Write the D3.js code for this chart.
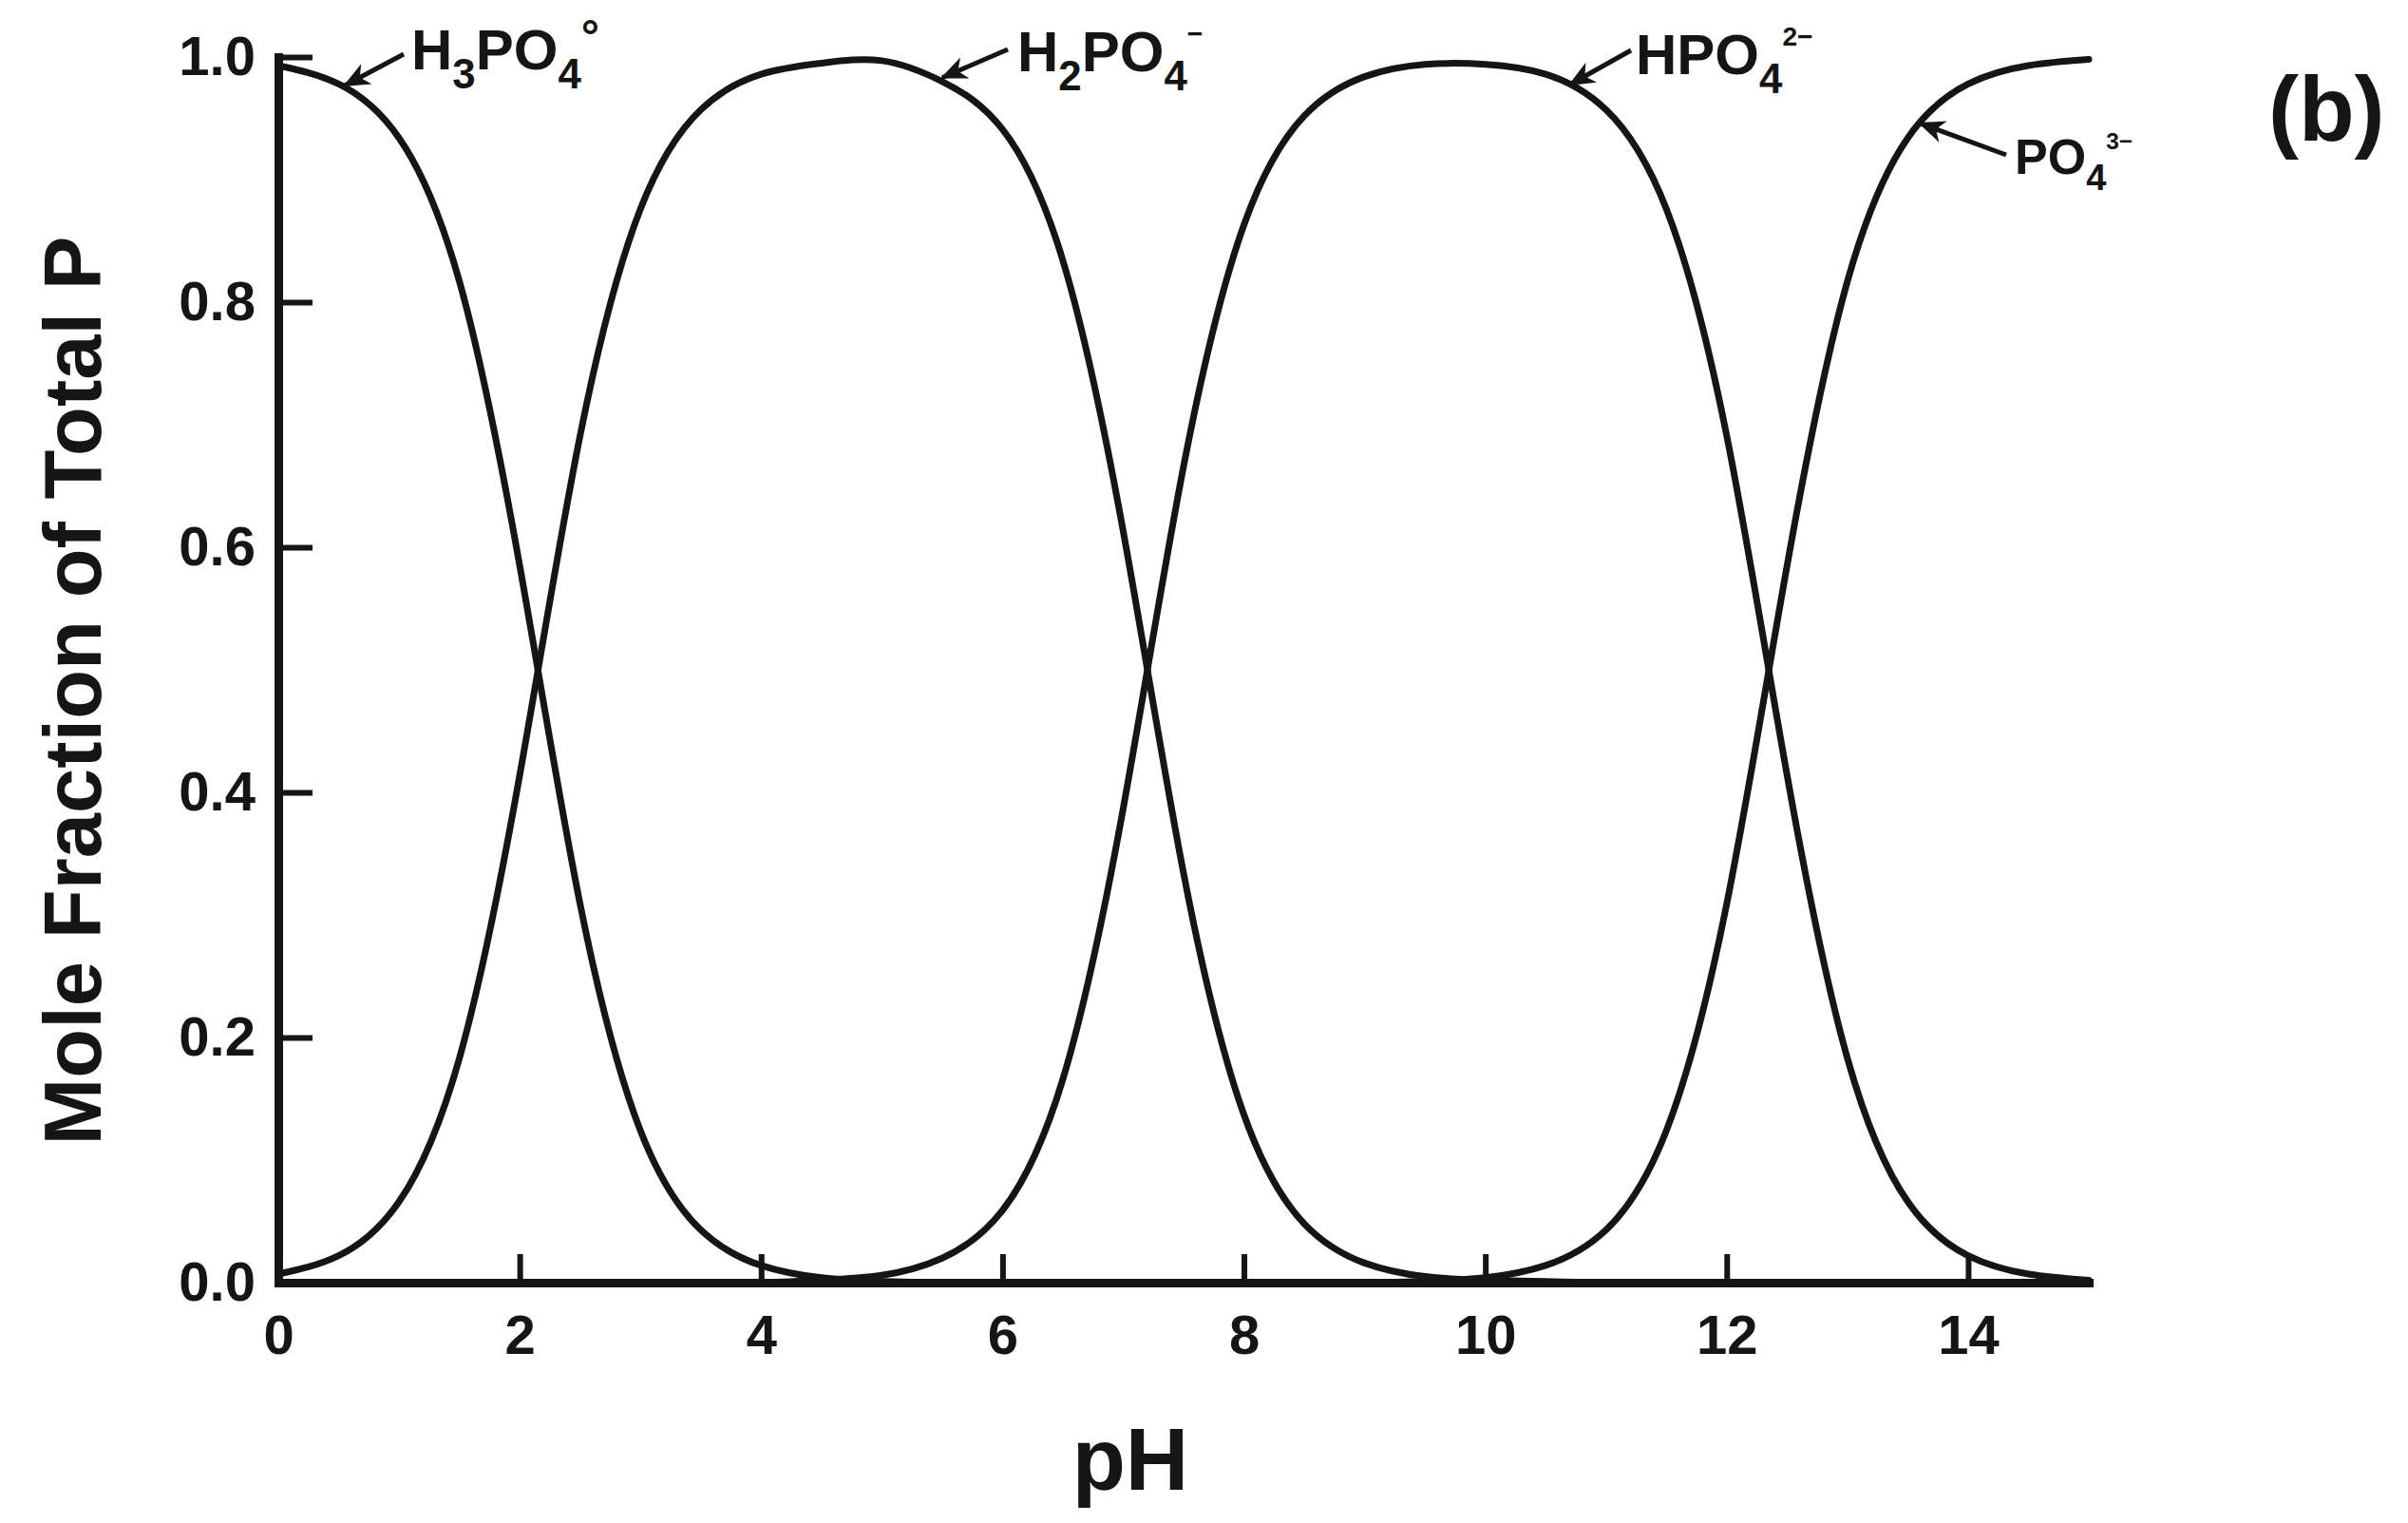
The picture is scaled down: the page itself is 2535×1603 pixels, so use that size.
<!DOCTYPE html>
<html>
<head>
<meta charset="utf-8">
<script src="https://cdn.jsdelivr.net/npm/d3@7"></script>
<style>
  html, body { margin: 0; padding: 0; background: #ffffff; }
  svg { display: block; }
  text { font-family: "Liberation Sans", Arial, Helvetica, sans-serif; font-weight: bold; fill: #151515; }
</style>
</head>
<body>
<svg id="chart" width="2535" height="1603"></svg>
<script>
// ---- data ----
const pH = [0, 0.5, 1, 1.5, 2, 2.5, 3, 3.5, 4, 4.5, 5, 5.5, 6, 6.5, 7, 7.5,
            8, 8.5, 9, 9.5, 10, 10.5, 11, 11.5, 12, 12.5, 13, 13.5, 14, 14.5, 15];
const fracH3PO4 = [0.993, 0.978, 0.934, 0.817, 0.585, 0.309, 0.124, 0.043, 0.014, 0.004, 0.001,
                   0, 0, 0, 0, 0, 0, 0, 0, 0, 0, 0, 0, 0, 0, 0, 0, 0, 0, 0, 0];
const fracH2PO4 = [0.007, 0.022, 0.066, 0.183, 0.414, 0.691, 0.876, 0.957, 0.986, 0.995, 0.997,
                   0.980, 0.941, 0.834, 0.613, 0.334, 0.137, 0.048, 0.016, 0.005, 0.002, 0.001,
                   0, 0, 0, 0, 0, 0, 0, 0, 0];
const fracHPO4  = [0, 0, 0, 0, 0, 0, 0, 0, 0, 0.002, 0.006, 0.020, 0.059, 0.166, 0.387, 0.666,
                   0.863, 0.952, 0.984, 0.994, 0.994, 0.986, 0.957, 0.876, 0.691, 0.414, 0.183,
                   0.066, 0.022, 0.007, 0.002];
const fracPO4   = [0, 0, 0, 0, 0, 0, 0, 0, 0, 0, 0, 0, 0, 0, 0, 0, 0, 0, 0, 0.001, 0.004, 0.014,
                   0.043, 0.124, 0.309, 0.585, 0.817, 0.934, 0.978, 0.993, 0.998];
const xTicks = [0, 2, 4, 6, 8, 10, 12, 14];
const yTicks = [0, 0.2, 0.4, 0.6, 0.8, 1.0];
const yTitle = "Mole Fraction of Total P";
const xTitle = "pH";
const panelTag = "(b)";
// species labels: segments [text, kind] and the pH of the curve point the arrow targets
const speciesLabels = [
  { segs: [["H","n"],["3","sub"],["PO","n"],["4","sub"],["°","sup"]], series: fracH3PO4, at: 0.55 },
  { segs: [["H","n"],["2","sub"],["PO","n"],["4","sub"],["−","sup"]], series: fracH2PO4, at: 5.5 },
  { segs: [["HPO","n"],["4","sub"],["2−","sup"]], series: fracHPO4, at: 10.7 },
  { segs: [["PO","n"],["4","sub"],["3−","sup"]], series: fracPO4, at: 13.6 }
];

// ---- layout ----
const svg = d3.select("#chart");
const x = d3.scaleLinear().domain([0, 15]).range([293, 2199]);
const y = d3.scaleLinear().domain([0, 1]).range([1350, 60]);
const ink = "#151515";

// curves
const series = [fracH3PO4, fracH2PO4, fracHPO4, fracPO4];
const line = d3.line()
  .x((d, i) => x(pH[i]))
  .y(d => y(d))
  .curve(d3.curveNatural);
svg.append("g").selectAll("path").data(series).join("path")
  .attr("d", d => line(d))
  .attr("fill", "none")
  .attr("stroke", ink)
  .attr("stroke-width", 7)
  .attr("stroke-linejoin", "round")
  .attr("stroke-linecap", "round");

// axes
const xAxis = d3.axisBottom(x).tickValues(xTicks).tickSizeInner(-30).tickSizeOuter(0)
  .tickPadding(34).tickFormat(d3.format("d"));
const gx = svg.append("g").attr("transform", `translate(0,${y(0)})`).call(xAxis);
const yAxis = d3.axisLeft(y).tickValues(yTicks).tickSizeInner(-36).tickSizeOuter(0)
  .tickPadding(24).tickFormat(d3.format(".1f"));
const gy = svg.append("g").attr("transform", `translate(${x(0)},0)`).call(yAxis);

[gx, gy].forEach(g => {
  g.select(".domain").attr("stroke", ink).attr("stroke-width", 9).attr("stroke-linecap", "square");
  g.selectAll(".tick line").attr("stroke", ink).attr("stroke-width", 6);
  g.selectAll(".tick text")
    .attr("fill", ink)
    .style("font-family", '"Liberation Sans", Arial, sans-serif')
    .style("font-weight", "bold")
    .style("font-size", "58px");
});
gx.selectAll(".tick").filter(d => d === 0).select("line").remove();
gy.selectAll(".tick").filter(d => d === 0).select("line").remove();

// axis titles
svg.append("text")
  .attr("transform", "translate(106,727) rotate(-90)")
  .attr("text-anchor", "middle")
  .style("font-size", "85px")
  .text(yTitle);
svg.append("text")
  .attr("x", 1190).attr("y", 1568)
  .attr("text-anchor", "middle")
  .style("font-size", "92px")
  .text(xTitle);
svg.append("text")
  .attr("x", 2388).attr("y", 148)
  .style("font-size", "96px")
  .text(panelTag);

// arrow marker
svg.append("defs").append("marker")
  .attr("id", "arr")
  .attr("viewBox", "0 -6 14 12")
  .attr("refX", 13).attr("refY", 0)
  .attr("markerWidth", 28).attr("markerHeight", 24)
  .attr("markerUnits", "userSpaceOnUse")
  .attr("orient", "auto")
  .append("path")
  .attr("d", "M0,-6 L14,0 L0,6 L4,0 Z")
  .attr("fill", ink);

// label placement (text start/baseline, arrow tail) and font sizes
const labelPos = [
  { tx: 433,  base: 73,  size: 60, tail: [425, 57] },
  { tx: 1071, base: 75,  size: 60, tail: [1061, 52] },
  { tx: 1722, base: 78,  size: 60, tail: [1717, 53] },
  { tx: 2121, base: 183, size: 52, tail: [2112, 163] }
];

speciesLabels.forEach((lab, k) => {
  const p = labelPos[k];
  const t = svg.append("text").attr("x", p.tx).attr("y", p.base).style("font-size", p.size + "px");
  lab.segs.forEach(([s, kind]) => {
    const ts = t.append("tspan").text(s);
    if (kind === "sub") ts.attr("y", p.base + p.size * 0.33).style("font-size", (p.size * 0.73) + "px");
    else if (kind === "sup") {
      const big = s === "°";
      ts.attr("y", p.base - p.size * (big ? 0.3 : 0.5))
        .style("font-size", (p.size * (big ? 0.8 : 0.47)) + "px");
    }
    else ts.attr("y", p.base);
  });
  // arrow to the curve point
  const idx = d3.bisectLeft(pH, lab.at);
  const x0 = pH[idx - 1], x1 = pH[idx];
  const f = (lab.at - x0) / (x1 - x0);
  const v = lab.series[idx - 1] + f * (lab.series[idx] - lab.series[idx - 1]);
  svg.append("line")
    .attr("x1", p.tail[0]).attr("y1", p.tail[1])
    .attr("x2", x(lab.at)).attr("y2", y(v) - 4)
    .attr("stroke", ink).attr("stroke-width", 5)
    .attr("marker-end", "url(#arr)");
});
</script>
</body>
</html>
